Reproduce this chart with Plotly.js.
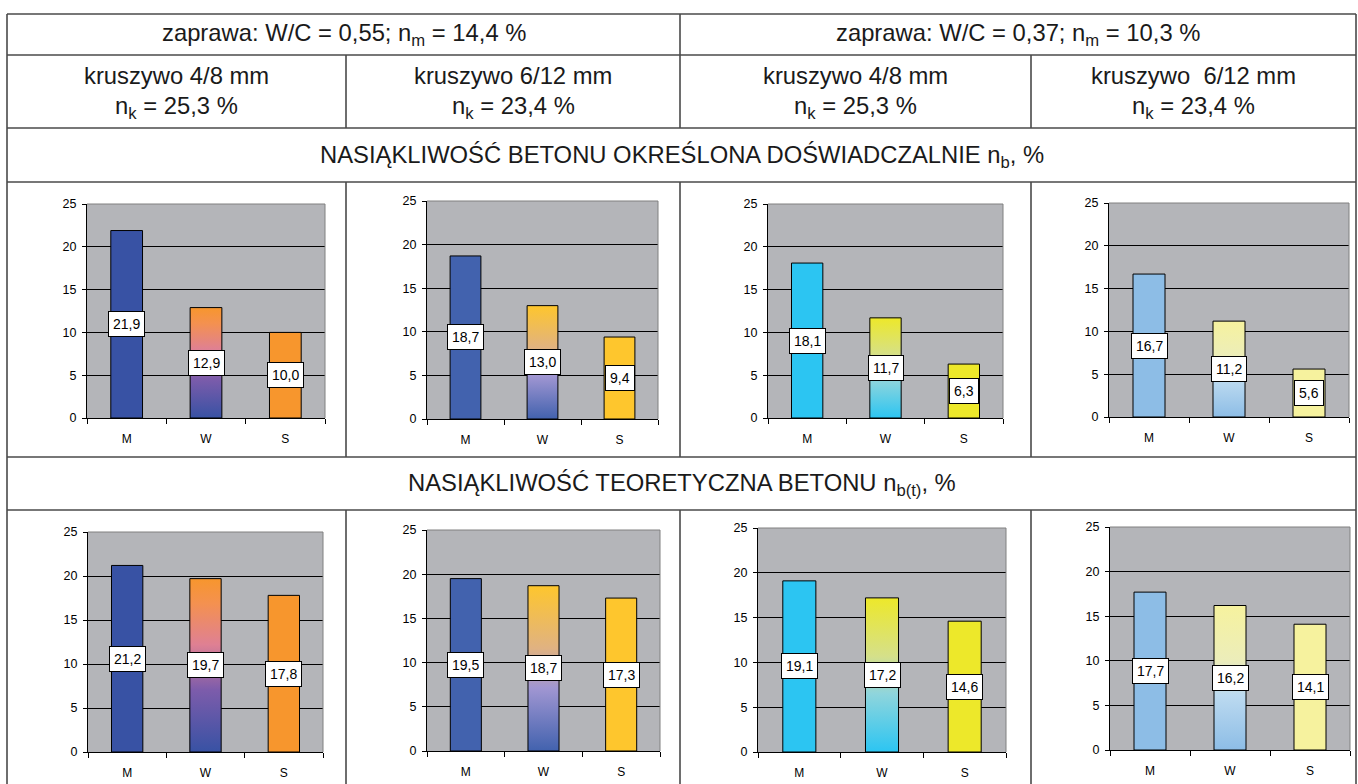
<!DOCTYPE html>
<html><head><meta charset="utf-8">
<script src="https://cdn.plot.ly/plotly-3.0.1.min.js"></script>
<style>html,body{margin:0;padding:0;background:#fff;}#chart{width:1358px;height:784px;}</style>
</head><body><div id="chart"></div>
<script>
// ---------- DATA ----------
const categories = ['M', 'W', 'S'];
// experimental water absorption n_b, %
const expWC055Agg48  = [21.9, 12.9, 10.0];
const expWC055Agg612 = [18.7, 13.0, 9.4];
const expWC037Agg48  = [18.1, 11.7, 6.3];
const expWC037Agg612 = [16.7, 11.2, 5.6];
// theoretical water absorption n_b(t), %
const teoWC055Agg48  = [21.2, 19.7, 17.8];
const teoWC055Agg612 = [19.5, 18.7, 17.3];
const teoWC037Agg48  = [19.1, 17.2, 14.6];
const teoWC037Agg612 = [17.7, 16.2, 14.1];
const yTickVals = [0, 5, 10, 15, 20, 25];
const headerMortar = ['zaprawa: W/C = 0,55; n<sub>m</sub> = 14,4 %', 'zaprawa: W/C = 0,37; n<sub>m</sub> = 10,3 %'];
const headerAggregate = ['kruszywo 4/8 mm', 'kruszywo 6/12 mm', 'kruszywo 4/8 mm', 'kruszywo\u00a0 6/12 mm'];
const headerAggPorosity = ['n<sub>k</sub> = 25,3 %', 'n<sub>k</sub> = 23,4 %', 'n<sub>k</sub> = 25,3 %', 'n<sub>k</sub> = 23,4 %'];
const rowTitles = ['NASIĄKLIWOŚĆ BETONU OKREŚLONA DOŚWIADCZALNIE n<sub>b</sub>, %', 'NASIĄKLIWOŚĆ TEORETYCZNA BETONU n<sub>b(t)</sub>, %'];

// ---------- STYLE ----------
const W = 1358, H = 784;
const FONT = 'Liberation Sans, Arial, sans-serif';
const colStyles = [
  {m: '#3852a4', s: '#f7962d', grad: [[0, '#3852a4'], [0.36, '#7d5cab'], [0.62, '#df8093'], [0.86, '#f4914f'], [1, '#f7962d']]},
  {m: '#4262ae', s: '#fec62d', grad: [[0, '#4262ae'], [0.38, '#a096d2'], [0.62, '#e0b282'], [1, '#fec62d']]},
  {m: '#2cc5f2', s: '#ede82a', grad: [[0, '#2cc5f2'], [0.38, '#8fd5dc'], [0.62, '#d5e08a'], [1, '#ede82a']]},
  {m: '#8dbde6', s: '#f6f29e', grad: [[0, '#8dbde6'], [0.38, '#bcdaf0'], [0.62, '#ecedba'], [1, '#f6f29e']]}
];
const panels = [
  {data: expWC055Agg48,  col: 0, box: [87, 325, 204, 418]},
  {data: expWC055Agg612, col: 1, box: [427, 658, 201, 419]},
  {data: expWC037Agg48,  col: 2, box: [768, 1003, 204, 418]},
  {data: expWC037Agg612, col: 3, box: [1109, 1349, 203, 417]},
  {data: teoWC055Agg48,  col: 0, box: [88, 323, 532, 752]},
  {data: teoWC055Agg612, col: 1, box: [427, 660, 530, 751]},
  {data: teoWC037Agg48,  col: 2, box: [758, 1006, 528, 752]},
  {data: teoWC037Agg612, col: 3, box: [1110, 1350, 527, 750]}
];
const px = x => x / W;
const py = y => 1 - y / H;
const fmt = v => v.toFixed(1).replace('.', ',');

const traces = [];
const layout = {
  width: W, height: H, margin: {l: 0, r: 0, t: 0, b: 0},
  paper_bgcolor: '#ffffff', plot_bgcolor: '#b4b5b9',
  bargap: 0.6, showlegend: false,
  font: {family: FONT, color: '#000'},
  annotations: [], shapes: []
};

panels.forEach((p, i) => {
  const s = i === 0 ? '' : String(i + 1);
  const st = colStyles[p.col];
  traces.push({
    type: 'bar', x: categories, y: p.data,
    xaxis: 'x' + s, yaxis: 'y' + s,
    marker: {color: [st.m, st.grad[st.grad.length - 1][1], st.s], line: {color: '#000', width: 1}},
    hoverinfo: 'none'
  });
  layout['xaxis' + s] = {
    domain: [px(p.box[0]), px(p.box[1])], anchor: 'y' + s,
    type: 'category', showline: true, linecolor: '#000', linewidth: 1,
    ticks: 'outside', ticklen: 5, tickcolor: '#000', tickson: 'boundaries',
    showgrid: false, zeroline: false, ticklabelstandoff: 10,
    tickfont: {family: FONT, size: 12, color: '#000'}, fixedrange: true
  };
  layout['yaxis' + s] = {
    domain: [py(p.box[3]), py(p.box[2])], anchor: 'x' + s,
    range: [0, 25], tickvals: yTickVals, showline: true, linecolor: '#000', linewidth: 1,
    ticks: 'outside', ticklen: 4, tickcolor: '#000', showgrid: true, gridcolor: '#000', gridwidth: 1,
    zeroline: false, ticklabelstandoff: 3,
    tickfont: {family: FONT, size: 12.5, color: '#000'}, fixedrange: true
  };
  // gray top & right plot-area border
  layout.shapes.push({type: 'line', xref: 'x' + s + ' domain', yref: 'y' + s + ' domain', x0: 0, x1: 1, y0: 1, y1: 1, line: {color: '#808080', width: 1}, layer: 'above'});
  layout.shapes.push({type: 'line', xref: 'x' + s + ' domain', yref: 'y' + s + ' domain', x0: 1, x1: 1, y0: 0, y1: 1, line: {color: '#808080', width: 1}, layer: 'above'});
  // value labels
  p.data.forEach((v, k) => {
    layout.annotations.push({
      x: categories[k], y: v / 2, xref: 'x' + s, yref: 'y' + s,
      text: fmt(v), showarrow: false, bgcolor: '#ffffff', bordercolor: '#000', borderwidth: 1, borderpad: 4,
      font: {family: FONT, size: 14, color: '#000'}
    });
  });
});

// ---------- TABLE ----------
const lineStyle = {color: '#4a4a4a', width: 1.6};
function hline(y, x0, x1) { layout.shapes.push({type: 'line', xref: 'paper', yref: 'paper', x0: px(x0), x1: px(x1), y0: py(y), y1: py(y), line: lineStyle}); }
function vline(x, y0, y1) { layout.shapes.push({type: 'line', xref: 'paper', yref: 'paper', x0: px(x), x1: px(x), y0: py(y0), y1: py(y1), line: lineStyle}); }
const L = 7, R = 1356;
[14, 55, 128, 182, 457, 510].forEach(y => hline(y, L, R));
vline(L, 14, 784); vline(R, 14, 784);
vline(680, 14, 128);
[346, 1031].forEach(x => vline(x, 55, 128));
[346, 680, 1031].forEach(x => { vline(x, 182, 457); vline(x, 510, 784); });

const HF = {family: FONT, size: 23.8, color: '#1a1a1a'};
function label(text, x, y) {
  layout.annotations.push({text: text, x: px(x), y: py(y), xref: 'paper', yref: 'paper', showarrow: false, xanchor: 'center', yanchor: 'middle', font: HF});
}
label(headerMortar[0], (L + 680) / 2, 35);
label(headerMortar[1], (680 + R) / 2, 35);
const colEdges = [L, 346, 680, 1031, R];
for (let c = 0; c < 4; c++) {
  const cx = (colEdges[c] + colEdges[c + 1]) / 2;
  label(headerAggregate[c], cx, 75);
  label(headerAggPorosity[c], cx, 108);
}
label(rowTitles[0], (L + R) / 2, 156);
label(rowTitles[1], (L + R) / 2, 484);

Plotly.newPlot('chart', traces, layout, {staticPlot: true, displayModeBar: false}).then(gd => {
  const NS = 'http://www.w3.org/2000/svg';
  const svg = gd.querySelector('svg.main-svg');
  let defs = svg.querySelector('defs');
  if (!defs) { defs = document.createElementNS(NS, 'defs'); svg.insertBefore(defs, svg.firstChild); }
  panels.forEach((p, i) => {
    const id = 'wgrad' + i;
    const lg = document.createElementNS(NS, 'linearGradient');
    lg.setAttribute('id', id);
    lg.setAttribute('x1', '0'); lg.setAttribute('y1', '1');
    lg.setAttribute('x2', '0'); lg.setAttribute('y2', '0');
    colStyles[p.col].grad.forEach(([o, c]) => {
      const st = document.createElementNS(NS, 'stop');
      st.setAttribute('offset', o);
      st.setAttribute('stop-color', c);
      lg.appendChild(st);
    });
    defs.appendChild(lg);
    const cls = i === 0 ? 'xy' : 'x' + (i + 1) + 'y' + (i + 1);
    const sub = gd.querySelector('g.subplot.' + cls);
    if (!sub) return;
    const paths = sub.querySelectorAll('.barlayer .point path');
    if (paths[1]) paths[1].style.fill = 'url(#' + id + ')';
  });
  // drop empty placeholder text nodes (unused axis titles)
  gd.querySelectorAll('text').forEach(t => { if (!t.textContent.trim()) t.remove(); });
});
</script>
</body></html>
